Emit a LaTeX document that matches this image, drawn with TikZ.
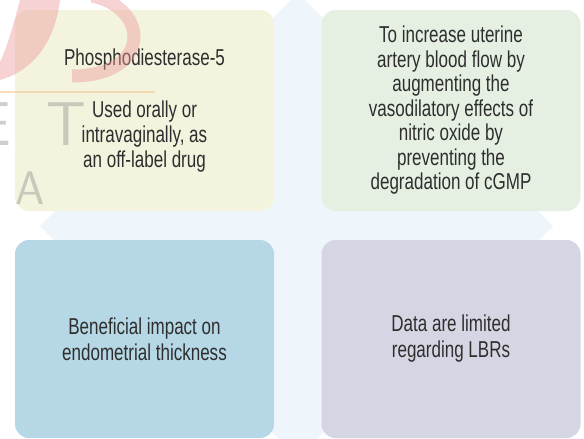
\documentclass[tikz,border=0pt]{standalone}
\usepackage{fontspec}
\setmainfont{Liberation Sans}[FakeStretch=0.74]
\definecolor{crossbg}{HTML}{EEF6FC}
\definecolor{boxA}{HTML}{F3F3DE}
\definecolor{boxB}{HTML}{E5F0E3}
\definecolor{boxC}{HTML}{B6D8E6}
\definecolor{boxD}{HTML}{D6D5E3}
\definecolor{txt}{HTML}{2E2E2E}
\definecolor{wmpink}{HTML}{EC9C9C}
\definecolor{wmorange}{HTML}{F4CFA0}
\definecolor{wmgrey}{HTML}{A8A8A0}
\begin{document}
\begin{tikzpicture}[x=1pt,y=-1pt,
  quad/.style={rounded corners=14pt, minimum width=259pt, inner sep=0pt,
    align=center, text=txt, font=\fontsize{23}{25}\selectfont},
  tophalf/.style={quad, minimum height=201pt},
  bothalf/.style={quad, minimum height=198pt, font=\fontsize{23}{26}\selectfont},
  wmletter/.style={text=wmgrey, opacity=0.55, inner sep=0pt, anchor=base}]
\useasboundingbox (0,0) rectangle (584,439);
\clip (0,0) rectangle (584,439);
\fill[white] (0,0) rectangle (584,439);
% background cross
\fill[crossbg] (298,-7) -- (328,23) -- (328,428) -- (298,458) -- (268,428) -- (268,23) -- cycle;
\fill[crossbg] (40,226) -- (70,196) -- (523,196) -- (553,226) -- (523,256) -- (70,256) -- cycle;
% quadrants
\node[tophalf, fill=boxA] (tl) at (144.5,110.5) {Phosphodiesterase-5\\[27pt]Used orally or\\intravaginally, as\\an off-label drug};
\node[tophalf, fill=boxB, font=\fontsize{23}{24.5}\selectfont] (tr) at (451,110.5) {To increase uterine\\artery blood flow by\\augmenting the\\vasodilatory effects of\\nitric oxide by\\preventing the\\degradation of cGMP};
\node[bothalf, fill=boxC] (bl) at (144.5,339) {Beneficial impact on\\endometrial thickness};
\node[bothalf, fill=boxD] (br) at (451,339) {Data are limited\\regarding LBRs};
% faint watermark
\fill[wmpink, opacity=0.45] (20,0) .. controls (12,30) and (6,50) .. (0,62) -- (0,80) .. controls (35,70) and (55,40) .. (60,0) -- cycle;
\draw[wmpink, opacity=0.45, line width=13pt] (92,-4) .. controls (150,8) and (152,76) .. (72,76);
\draw[wmorange, opacity=0.7, line width=1.5pt] (0,92) -- (155,92);
\node[wmletter, font=\sffamily\fontsize{62}{62}\selectfont] (wE) at (-6,145) {E};
\node[wmletter, font=\sffamily\fontsize{62}{62}\selectfont] (wT) at (66,145) {T};
\node[wmletter, font=\sffamily\fontsize{47}{47}\selectfont] (wA) at (30,204) {A};
\end{tikzpicture}
\end{document}
